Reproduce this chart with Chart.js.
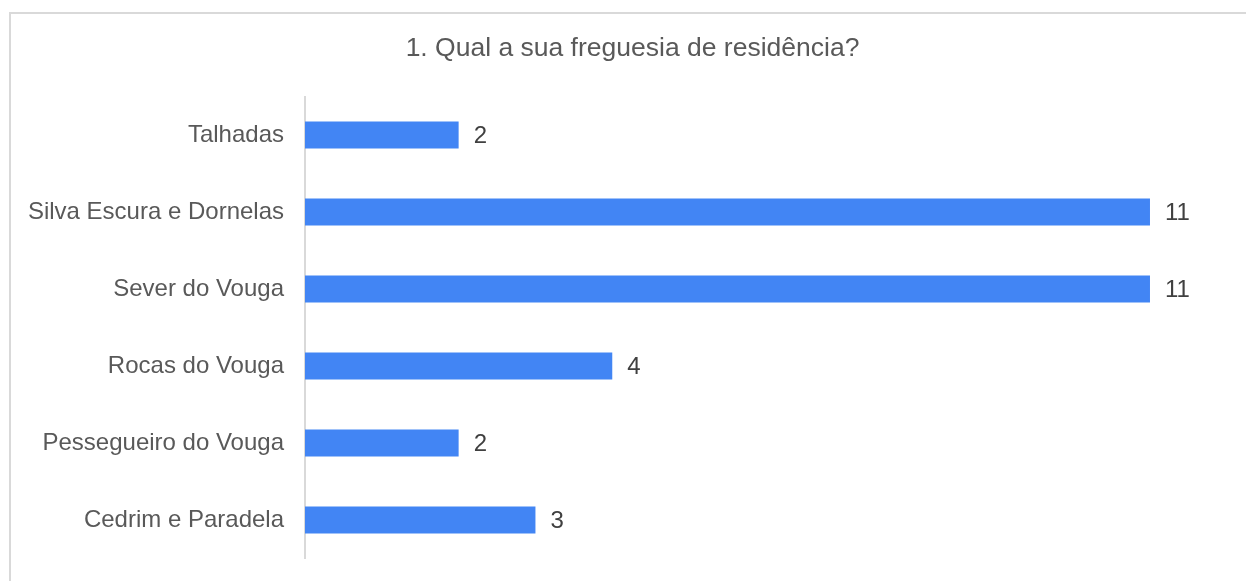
<!DOCTYPE html>
<html>
<head>
<meta charset="utf-8">
<script src="https://cdn.jsdelivr.net/npm/chart.js@4/dist/chart.umd.min.js"></script>
<style>
  html, body { margin: 0; padding: 0; background: #ffffff; }
  body { width: 1246px; height: 581px; position: relative; overflow: hidden; }
  #frame { position: absolute; left: 9px; top: 12px; width: 1260px; height: 600px; border: 2px solid #d9d9d9; box-sizing: border-box; }
  #c { position: absolute; left: 0; top: 0; }
</style>
</head>
<body>
<div id="frame"></div>
<canvas id="c" width="1246" height="581"></canvas>
<script>
const titleText = "1. Qual a sua freguesia de residência?";
const categories = ["Talhadas", "Silva Escura e Dornelas", "Sever do Vouga", "Rocas do Vouga", "Pessegueiro do Vouga", "Cedrim e Paradela"];
const values = [2, 11, 11, 4, 2, 3];

const FONT = "'Liberation Sans', Arial, sans-serif";

const valueLabels = {
  id: 'valueLabels',
  afterDatasetsDraw(chart) {
    const ctx = chart.ctx;
    const meta = chart.getDatasetMeta(0);
    ctx.save();
    ctx.font = "24px " + FONT;
    ctx.fillStyle = "#404040";
    ctx.textAlign = "left";
    ctx.textBaseline = "middle";
    meta.data.forEach((bar, i) => {
      ctx.fillText(String(values[i]), bar.x + 15, bar.y + 1);
    });
    ctx.restore();
  }
};

new Chart(document.getElementById('c'), {
  type: 'bar',
  data: {
    labels: categories,
    datasets: [{
      data: values,
      backgroundColor: '#4285F4',
      borderWidth: 0,
      barPercentage: 0.35,
      categoryPercentage: 1
    }]
  },
  options: {
    indexAxis: 'y',
    responsive: false,
    animation: false,
    devicePixelRatio: 1,
    layout: { padding: { left: 19, right: 0, top: 0, bottom: 22.5 } },
    plugins: {
      legend: { display: false },
      tooltip: { enabled: false },
      title: {
        display: true,
        text: titleText,
        color: '#595959',
        font: { family: FONT, size: 26.5, weight: 'normal', lineHeight: 1.2 },
        padding: { top: 33, bottom: 31.7 }
      }
    },
    scales: {
      x: {
        display: false,
        min: 0,
        max: 12.25
      },
      y: {
        afterFit(scale) {
          scale.width = 286;
          scale.paddingTop = 0;
          scale.paddingBottom = 0;
        },
        grid: { display: false, drawTicks: false },
        border: { display: true, color: '#d9d9d9', width: 2 },
        ticks: {
          color: '#595959',
          padding: 21,
          font: { family: FONT, size: 24 }
        }
      }
    }
  },
  plugins: [valueLabels]
});
</script>
</body>
</html>
